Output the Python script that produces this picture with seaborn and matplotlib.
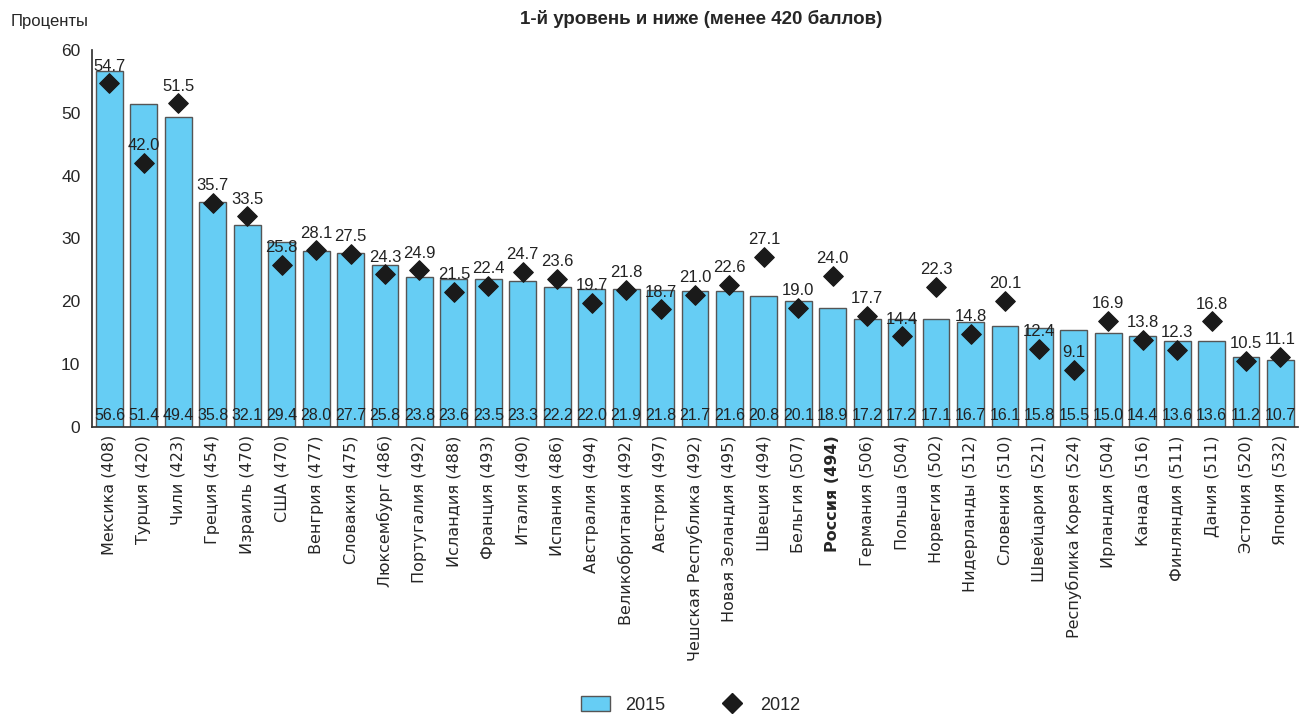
import matplotlib
matplotlib.use("Agg")
import matplotlib.pyplot as plt
import seaborn as sns
import pandas as pd
from matplotlib.lines import Line2D
from matplotlib.patches import Patch

countries = ["Мексика", "Турция", "Чили", "Греция", "Израиль", "США", "Венгрия",
             "Словакия", "Люксембург", "Португалия", "Исландия", "Франция", "Италия",
             "Испания", "Австралия", "Великобритания", "Австрия", "Чешская Республика",
             "Новая Зеландия", "Швеция", "Бельгия", "Россия", "Германия", "Польша",
             "Норвегия", "Нидерланды", "Словения", "Швейцария", "Республика Корея",
             "Ирландия", "Канада", "Финляндия", "Дания", "Эстония", "Япония"]
scores = [408, 420, 423, 454, 470, 470, 477, 475, 486, 492, 488, 493, 490, 486, 494,
          492, 497, 492, 495, 494, 507, 494, 506, 504, 502, 512, 510, 521, 524, 504,
          516, 511, 511, 520, 532]
values_2015 = [56.6, 51.4, 49.4, 35.8, 32.1, 29.4, 28.0, 27.7, 25.8, 23.8, 23.6, 23.5,
               23.3, 22.2, 22.0, 21.9, 21.8, 21.7, 21.6, 20.8, 20.1, 18.9, 17.2, 17.2,
               17.1, 16.7, 16.1, 15.8, 15.5, 15.0, 14.4, 13.6, 13.6, 11.2, 10.7]
values_2012 = [54.7, 42.0, 51.5, 35.7, 33.5, 25.8, 28.1, 27.5, 24.3, 24.9, 21.5, 22.4,
               24.7, 23.6, 19.7, 21.8, 18.7, 21.0, 22.6, 27.1, 19.0, 24.0, 17.7, 14.4,
               22.3, 14.8, 20.1, 12.4, 9.1, 16.9, 13.8, 12.3, 16.8, 10.5, 11.1]

labels = [f"{c} ({s})" for c, s in zip(countries, scores)]
df = pd.DataFrame({"label": labels, "v2015": values_2015, "v2012": values_2012})

sns.set_theme(style="white")
plt.rcParams["font.family"] = ["DejaVu Sans"]
narrow = ["Liberation Sans", "DejaVu Sans"]

bar_color = "#66CDF4"

fig = plt.figure(figsize=(12.99, 7.15), dpi=100)
ax = fig.add_axes([0.071, 0.403, 0.928, 0.527])

sns.barplot(data=df, x="label", y="v2015", color=bar_color, width=0.78,
            edgecolor="#555555", linewidth=1.0, saturation=1, ax=ax)
sns.scatterplot(data=df, x="label", y="v2012", marker="D", s=100, color="#1a1a1a",
                edgecolor="#1a1a1a", zorder=5, ax=ax)

for i, (a, b) in enumerate(zip(values_2015, values_2012)):
    ax.text(i, 0.6, f"{a:.1f}", ha="center", va="bottom", fontsize=11.5,
            family=narrow, color="#222222")
    ax.annotate(f"{b:.1f}", (i, b), xytext=(0, 7), textcoords="offset points",
                ha="center", va="bottom", fontsize=12, family=narrow, color="#222222")

ax.set_ylim(0, 60)
ax.set_xlim(-0.5, len(labels) - 0.5)
ax.set_yticks(range(0, 61, 10))
ax.set_xlabel("")
ax.set_ylabel("")
sns.despine(ax=ax)
ax.spines["left"].set_color("#333333")
ax.spines["bottom"].set_color("#333333")

ax.set_xticks(range(len(labels)))
ax.set_xticklabels(labels, rotation=90, fontsize=11.5)
ax.tick_params(axis="x", length=0, pad=6)
for lbl in ax.get_xticklabels():
    if lbl.get_text().startswith("Россия"):
        lbl.set_fontweight("bold")
# tick marks between bars
ax.set_xticks([i - 0.5 for i in range(len(labels) + 1)], minor=True)
ax.tick_params(axis="x", which="minor", length=6, direction="out", color="#333333")
ax.tick_params(axis="y", length=5, direction="out", color="#333333", labelsize=12.5)
for lbl in ax.get_yticklabels():
    lbl.set_family(narrow)

fig.text(0.008, 0.97, "Проценты", fontsize=12, family=narrow, va="center")
fig.text(0.54, 0.973, "1-й уровень и ниже (менее 420 баллов)", fontsize=13.5,
         fontweight="bold", family=narrow, ha="center", va="center")

handles = [Patch(facecolor=bar_color, edgecolor="#555555", label="2015"),
           Line2D([], [], marker="D", color="#1a1a1a", linestyle="", markersize=10,
                  label="2012")]
leg = fig.legend(handles=handles, loc="center", bbox_to_anchor=(0.532, 0.014),
                 ncol=2, frameon=False, fontsize=13, columnspacing=2.9,
                 handlelength=1.6, handleheight=0.9, handletextpad=0.8)
for t in leg.get_texts():
    t.set_family(narrow)

fig.savefig("out.png", dpi=100)
